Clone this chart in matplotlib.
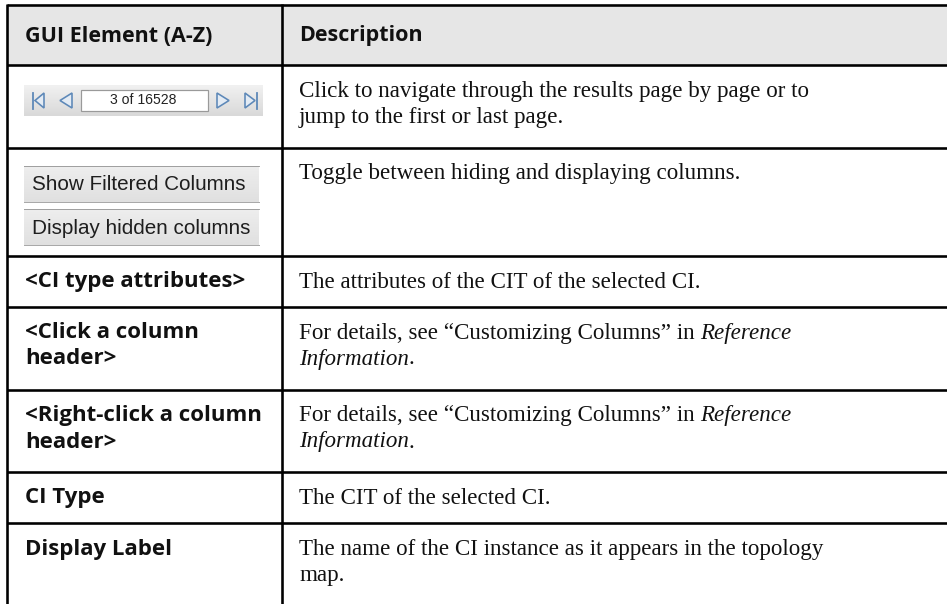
import matplotlib
matplotlib.use("Agg")
import matplotlib.pyplot as plt
import numpy as np
from matplotlib.patches import Rectangle, Polygon

# ---- content ----
headers = ["GUI Element (A-Z)", "Description"]
gui_elements = ["", "", "<CI type attributes>", "<Click a column\nheader>",
                "<Right-click a column\nheader>", "CI Type", "Display Label"]
# description segments: (text, italic)
descriptions = [
    [[("Click to navigate through the results page by page or to", False)],
     [("jump to the first or last page.", False)]],
    [[("Toggle between hiding and displaying columns.", False)]],
    [[("The attributes of the CIT of the selected CI.", False)]],
    [[("For details, see \u201cCustomizing Columns\u201d in ", False), ("Reference", True)],
     [("Information", True), (".", False)]],
    [[("For details, see \u201cCustomizing Columns\u201d in ", False), ("Reference", True)],
     [("Information", True), (".", False)]],
    [[("The CIT of the selected CI.", False)]],
    [[("The name of the CI instance as it appears in the topology", False)],
     [("map.", False)]],
]
pager_text = "3 of 16528"
button_labels = ["Show Filtered Columns", "Display hidden columns"]

# ---- layout (pixels) ----
W, H = 947, 604
row_edges = [5, 65, 148, 256, 307, 390, 472, 523]
x_left, x_div = 7, 282
PX = 0.72  # px -> pt at dpi 100

fig = plt.figure(figsize=(W / 100, H / 100), dpi=100)
ax = fig.add_axes([0, 0, 1, 1])
ax.set_xlim(0, W)
ax.set_ylim(H, 0)
ax.axis("off")

# header fill
ax.add_patch(Rectangle((x_left, row_edges[0]), W - x_left, row_edges[1] - row_edges[0],
                       facecolor="#e6e6e6", edgecolor="none", zorder=0))

lw = 2.6 * PX
for y in row_edges:
    ax.plot([x_left, W], [y, y], color="black", lw=lw, solid_capstyle="butt", zorder=5)
for x in (x_left, x_div):
    ax.plot([x, x], [row_edges[0] - 1, H], color="black", lw=lw, solid_capstyle="butt", zorder=5)

head_bold = dict(family="Open Sans", fontweight="bold", fontsize=21.5 * PX, color="#111111")
sans_bold = dict(family="Open Sans", fontweight="bold", fontsize=22.3 * PX, color="#111111")
serif = dict(family="Liberation Serif", fontsize=23 * PX, color="#111111")

# header text
hy = (row_edges[0] + row_edges[1]) / 2 + 1
ax.text(25, hy, headers[0], va="center", ha="left", **head_bold)
ax.text(299, hy, headers[1], va="center", ha="left", **head_bold)

fig.canvas.draw()
renderer = fig.canvas.get_renderer()

line_gap = 26
first_off = 26
for i in range(7):
    top = row_edges[i + 1]
    # GUI element column
    if gui_elements[i]:
        for k, ln in enumerate(gui_elements[i].split("\n")):
            ax.text(25, top + first_off + k * line_gap, ln, va="center", ha="left", **sans_bold)
    # description column
    for k, segs in enumerate(descriptions[i]):
        x = 299
        y = top + first_off + k * line_gap
        for txt, it in segs:
            t = ax.text(x, y, txt, va="center", ha="left",
                        fontstyle="italic" if it else "normal", **serif)
            bb = t.get_window_extent(renderer=renderer)
            x += bb.width

# ---- pager widget (row 1) ----
def hgrad(x0, x1, y0, y1, c_top, c_bot, z=2):
    g = np.linspace(0, 1, 50)[:, None]
    a = np.array(matplotlib.colors.to_rgb(c_top))
    b = np.array(matplotlib.colors.to_rgb(c_bot))
    img = a[None, None, :] * (1 - g[..., None]) + b[None, None, :] * g[..., None]
    img = np.repeat(img, 2, axis=1)
    ax.imshow(img, extent=[x0, x1, y1, y0], aspect="auto", zorder=z, interpolation="bilinear")

hgrad(24, 263, 85, 116, "#f1f1f1", "#d9d9d9")
ax.add_patch(Rectangle((81, 89.5), 127, 21.5, facecolor="white", edgecolor="#9a9a9a",
                       lw=1.2 * PX, zorder=3))
ax.text(143, 100.5, pager_text, ha="center", va="center", family="Liberation Sans",
        fontsize=14 * PX, color="#222222", zorder=4)
ic_edge, ic_face = "#5d88b8", "#e3ebf4"
yc, hh = 100.5, 7.5
for pts in ([(35, yc), (44, yc - hh), (44, yc + hh)],
            [(60, yc), (72, yc - hh), (72, yc + hh)],
            [(229, yc), (217, yc - hh), (217, yc + hh)],
            [(255, yc), (245, yc - hh), (245, yc + hh)]):
    ax.add_patch(Polygon(pts, closed=True, facecolor=ic_face, edgecolor=ic_edge,
                         lw=1.6 * PX, zorder=4))
for bx in (33, 257):
    ax.plot([bx, bx], [yc - hh - 0.5, yc + hh + 0.5], color=ic_edge, lw=1.8 * PX, zorder=4)

# ---- toggle buttons (row 2) ----
for (y0, y1), lab in zip([(166, 202), (209, 245)], button_labels):
    hgrad(24, 259, y0, y1, "#eeeeee", "#e0e0e0")
    for yy in (y0, y1):
        ax.plot([24, 259], [yy, yy], color="#555555", lw=1.0 * PX, ls=(0, (1, 1)), zorder=4)
    ax.text(32, (y0 + y1) / 2 + 1, lab, ha="left", va="center", family="Liberation Sans",
            fontsize=20.6 * PX, color="#1e1e1e", zorder=4)

fig.savefig("out.png", dpi=100)
